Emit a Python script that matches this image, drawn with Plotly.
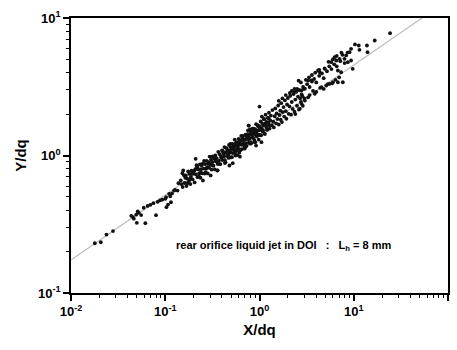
import plotly.graph_objects as go

# ---- measured points (X/dq, Y/dq), grouped by region of the cloud ----
x_sparse = [0.0179, 0.0207, 0.0238, 0.0279,
            0.0436, 0.0464, 0.0492, 0.0524, 0.0555, 0.0499, 0.0615, 0.0591, 0.0695, 0.0748,
            0.0798, 0.0879, 0.100, 0.103, 0.115, 0.102, 0.110, 0.124, 0.127,
            0.0455, 0.0510, 0.0650, 0.0830, 0.093, 0.107, 0.118, 0.113]
y_sparse = [0.230, 0.234, 0.266, 0.282,
            0.364, 0.347, 0.371, 0.383, 0.369, 0.324, 0.322, 0.417, 0.438, 0.450,
            0.368, 0.471, 0.484, 0.421, 0.457, 0.497, 0.526, 0.556, 0.563,
            0.356, 0.392, 0.430, 0.460, 0.477, 0.440, 0.530, 0.505]

x_read = [0.135, 0.138, 0.146, 0.152, 0.155, 0.165, 0.172, 0.182, 0.191, 0.202, 0.210, 0.219,
          0.228, 0.238, 0.247, 0.251, 0.268, 0.279, 0.290, 0.303, 0.320, 0.342, 0.356, 0.370,
          0.395, 0.418, 0.436, 0.464, 0.480, 0.492, 0.532, 0.555, 0.601, 0.627, 0.679, 0.707,
          0.766, 0.798, 0.865, 0.901, 0.766]
y_read = [0.556, 0.629, 0.658, 0.743, 0.778, 0.716, 0.629, 0.672, 0.736, 0.769, 0.946, 0.822,
          0.703, 0.756, 0.870, 0.658, 0.756, 0.822, 0.894, 0.716, 0.846, 0.920, 0.778, 0.870,
          0.962, 1.03, 0.894, 1.00, 0.846, 1.09, 1.15, 1.00, 1.22, 1.09, 1.29, 1.15,
          1.36, 1.22, 1.44, 1.25, 1.65]

x_core = [0.148, 0.153, 0.158, 0.160, 0.163, 0.168, 0.170, 0.175, 0.178, 0.180, 0.185, 0.187,
          0.190, 0.195, 0.198, 0.205, 0.208, 0.212, 0.215, 0.220, 0.224, 0.230, 0.233, 0.236,
          0.240, 0.243, 0.246, 0.255, 0.258, 0.262, 0.265, 0.272, 0.275, 0.282, 0.286, 0.292,
          0.296, 0.300, 0.306, 0.310, 0.315, 0.318, 0.325, 0.330, 0.335, 0.340, 0.345, 0.350,
          0.360, 0.365, 0.372, 0.378, 0.385, 0.390, 0.400, 0.405, 0.412, 0.420, 0.425, 0.430,
          0.440, 0.448, 0.455, 0.460, 0.470, 0.475, 0.485, 0.495, 0.500, 0.505, 0.515, 0.520,
          0.530, 0.538, 0.545, 0.550, 0.560, 0.568, 0.575, 0.585, 0.590, 0.600, 0.610, 0.620,
          0.630, 0.640, 0.650, 0.660, 0.672, 0.685, 0.695, 0.710, 0.720, 0.730, 0.745, 0.755,
          0.770, 0.780, 0.790, 0.805, 0.815, 0.830, 0.840, 0.850, 0.870, 0.880, 0.895, 0.910,
          0.920, 0.935, 0.950, 0.965, 0.980, 0.995]
y_core = [0.620, 0.590, 0.717, 0.631, 0.689, 0.600, 0.682, 0.765, 0.650, 0.734, 0.620, 0.699,
          0.775, 0.671, 0.739, 0.637, 0.794, 0.728, 0.851, 0.696, 0.792, 0.741, 0.861, 0.689,
          0.796, 0.848, 0.742, 0.803, 0.912, 0.740, 0.866, 0.802, 0.915, 0.741, 0.873, 0.813,
          0.982, 0.856, 0.934, 0.790, 0.894, 0.987, 0.844, 0.950, 0.792, 1.000, 0.905, 0.958,
          0.868, 1.063, 0.919, 1.023, 0.866, 0.979, 1.089, 0.926, 1.044, 0.983, 1.151, 0.882,
          1.046, 1.129, 0.989, 1.090, 0.961, 1.192, 1.051, 1.150, 0.968, 1.105, 1.215, 1.042,
          1.164, 1.092, 1.305, 1.047, 1.183, 1.250, 1.116, 1.007, 1.202, 1.320, 1.113, 1.269,
          1.205, 1.389, 1.113, 1.336, 1.219, 1.306, 1.122, 1.417, 1.231, 1.386, 1.322, 1.520,
          1.238, 1.411, 1.334, 1.496, 1.228, 1.419, 1.565, 1.349, 1.492, 1.300, 1.557, 1.421,
          1.690, 1.376, 1.520, 1.635, 1.303, 1.525]

x_core2 = [0.41, 0.43, 0.45, 0.47, 0.49, 0.51, 0.53, 0.55, 0.57, 0.59, 0.61, 0.63, 0.65, 0.67,
           0.69, 0.71, 0.73, 0.75, 0.77, 0.79, 0.81, 0.83, 0.85, 0.87, 0.89, 0.91, 0.93, 0.96,
           0.98, 1.01, 1.04, 1.07, 1.09, 1.12, 1.14, 1.17, 1.19, 1.21, 1.25, 1.27,
           0.62, 0.52, 0.36]
y_core2 = [1.075, 0.926, 1.061, 1.009, 1.213, 0.972, 1.125, 1.215, 1.083, 1.161, 1.048, 1.286,
           1.195, 1.390, 1.178, 1.313, 1.175, 1.431, 1.314, 1.550, 1.249, 1.447, 1.349, 1.565,
           1.249, 1.527, 1.453, 1.665, 1.409, 1.568, 1.402, 1.704, 1.527, 1.838, 1.431, 1.662,
           1.759, 1.538, 1.868, 1.659,
           0.98, 0.88, 0.78]

x_mid = [1.00, 1.02, 1.03, 1.05, 1.06, 1.08, 1.10, 1.11, 1.13, 1.15, 1.16, 1.18, 1.20, 1.22,
         1.24, 1.26, 1.28, 1.30, 1.32, 1.35, 1.37, 1.40, 1.42, 1.45, 1.47, 1.50, 1.52, 1.55,
         1.58, 1.60, 1.63, 1.66, 1.68, 1.70, 1.73, 1.76, 1.80, 1.83, 1.86, 1.90, 1.93, 1.96,
         2.00, 2.04, 2.08, 2.12, 2.16, 2.20, 2.25, 2.30, 2.35, 2.40, 2.45, 2.50, 2.56, 2.62,
         2.68, 2.75, 2.80, 2.88, 2.95, 3.00,
         1.00, 0.77, 1.05, 0.92]
y_mid = [1.63, 1.41, 1.77, 1.58, 1.92, 1.50, 1.66, 1.84, 1.45, 1.71, 1.98, 1.61, 1.54, 1.88,
         1.73, 2.05, 1.57, 1.80, 1.95, 1.66, 2.14, 1.76, 1.60, 1.93, 2.20, 1.71, 2.02, 1.84,
         2.31, 1.68, 1.97, 2.12, 1.82, 2.40, 1.75, 2.07, 2.25, 1.92, 2.52, 2.10, 1.85, 2.35,
         2.62, 2.01, 2.28, 2.72, 1.98, 2.45, 2.18, 2.80, 2.08, 2.55, 2.90, 2.30, 2.68, 2.16,
         2.98, 2.45, 2.78, 2.30, 3.05, 2.60,
         2.27, 1.65, 1.25, 1.18]

x_upper = [2.68, 2.79, 3.03, 3.28, 2.79, 3.03, 3.86, 3.28, 3.56, 4.36, 4.18, 4.92, 4.53, 5.11,
           5.55, 6.01, 6.79, 7.66, 6.79, 7.35, 5.77, 6.26, 6.52, 7.07, 8.65, 9.37, 9.75, 9.02,
           9.37, 10.3, 11.3, 11.5, 13.8, 14.0, 16.7, 24.3, 8.30, 7.98,
           2.6, 2.9, 3.2, 3.4, 3.6, 3.8, 4.0, 4.3, 4.6, 4.8, 5.2, 5.5, 5.8, 6.2, 6.6, 7.2, 7.6,
           8.0, 8.6, 3.4, 3.7, 4.0, 4.4, 4.8, 5.3, 5.9, 6.4, 7.0,
           2.1, 2.3, 2.5, 2.7, 2.85, 2.4,
           2.2, 2.35, 1.9, 1.75, 1.6, 2.6, 2.75, 3.1, 3.35, 3.6, 3.9, 4.3, 4.9, 5.4, 6.0, 6.6, 7.4]
y_upper = [2.19, 2.38, 2.51, 2.65, 2.97, 3.06, 2.81, 3.51, 3.51, 4.03, 4.15, 4.27, 3.14, 3.23,
           3.32, 3.41, 3.41, 3.41, 4.15, 4.03, 4.77, 5.19, 4.91, 5.05, 4.77, 4.91, 4.27, 5.64,
           5.97, 6.42, 6.31, 5.87, 6.31, 5.64, 6.86, 7.75, 5.34, 5.05,
           3.00, 3.15, 3.30, 3.15, 3.45, 3.60, 3.40, 3.80, 3.95, 3.65, 4.10, 4.45, 4.25, 4.60,
           4.45, 4.85, 5.40, 4.70, 5.60, 2.75, 2.95, 2.90, 3.10, 3.05, 3.30, 3.35, 3.55, 3.70,
           2.85, 2.95, 3.05, 2.60, 2.70, 2.00,
           2.95, 3.05, 2.75, 2.60, 2.50, 3.50, 3.40, 3.55, 3.70, 3.85, 4.00, 4.20, 4.30, 4.80,
           5.00, 5.30, 5.60]

# fitted reference line endpoints
fit_x = [0.01, 53.0]
fit_y = [0.174, 10.0]

# tick labels
x_tick_vals = [0.01, 0.1, 1, 10, 100]
x_tick_text = ["10<sup>-2</sup>", "10<sup>-1</sup>", "10<sup>0</sup>", "10<sup>1</sup>", "10<sup>2</sup>"]
y_tick_vals = [0.1, 1, 10]
y_tick_text = ["10<sup>-1</sup>", "10<sup>0</sup>", "10<sup>1</sup>"]
x_minor_vals = [m * d for d in (0.01, 0.1, 1, 10) for m in range(2, 10)]
y_minor_vals = [m * d for d in (0.1, 1) for m in range(2, 10)]

x_all = x_sparse + x_read + x_core + x_core2 + x_mid + x_upper
y_all = y_sparse + y_read + y_core + y_core2 + y_mid + y_upper

font_family = "Liberation Sans, Arial, sans-serif"

fig = go.Figure()
fig.add_trace(go.Scatter(x=fit_x, y=fit_y, mode="lines",
                         line=dict(color="#bdbdbd", width=1.2), hoverinfo="skip"))
fig.add_trace(go.Scatter(x=x_all, y=y_all, mode="markers",
                         marker=dict(color="#111111", size=3.8, line=dict(width=0))))

major_common = dict(
    type="log", showgrid=False, zeroline=False,
    showline=True, linecolor="black", linewidth=1.5, mirror=True,
    tickmode="array",
    ticks="outside", ticklen=6, tickwidth=1.5, tickcolor="black",
    tickfont=dict(family=font_family, size=13, color="black", weight="bold"),
)
minor_common = dict(tickmode="array", ticks="outside", ticklen=3, tickwidth=1,
                    tickcolor="black", showgrid=False)

fig.update_layout(
    width=457, height=350,
    margin=dict(l=71, r=7, t=18, b=57),
    paper_bgcolor="white", plot_bgcolor="white",
    showlegend=False,
    xaxis=dict(major_common, range=[-2, 2], tickvals=x_tick_vals, ticktext=x_tick_text,
               minor=dict(minor_common, tickvals=x_minor_vals),
               title=dict(text="<b>X/dq</b>", font=dict(family=font_family, size=15, color="black"),
                          standoff=6)),
    yaxis=dict(major_common, range=[-1, 1], tickvals=y_tick_vals, ticktext=y_tick_text,
               minor=dict(minor_common, tickvals=y_minor_vals),
               title=dict(text="<b>Y/dq</b>", font=dict(family=font_family, size=15, color="black"),
                          standoff=8)),
    annotations=[dict(
        text="<b>rear orifice liquid jet in DOI   :   L<sub>h</sub> = 8 mm</b>",
        xref="paper", yref="paper", x=0.565, y=0.138, showarrow=False,
        font=dict(family=font_family, size=11, color="black"),
    )],
)

fig.write_html("out.html")
